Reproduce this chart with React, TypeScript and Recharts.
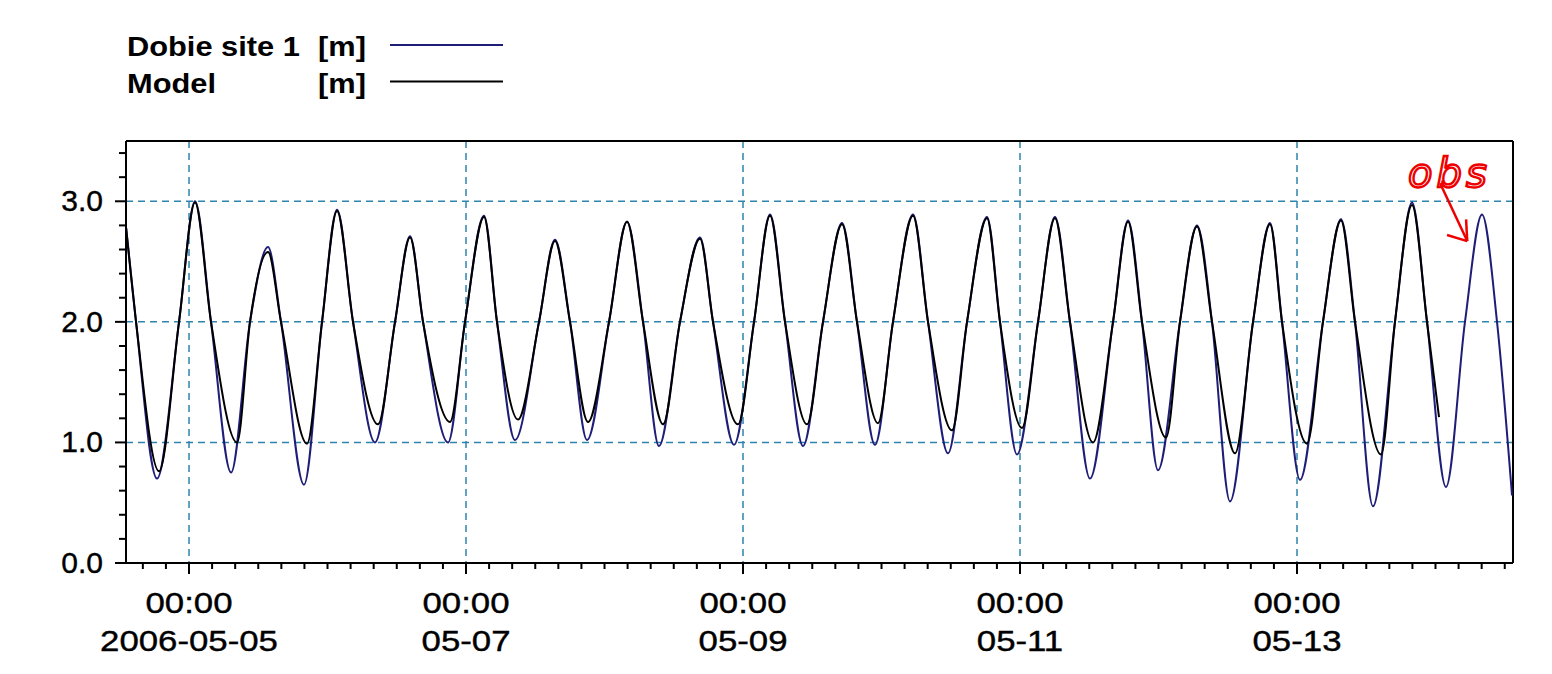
import React from 'react';
import { LineChart, Line, XAxis, YAxis, CartesianGrid, ReferenceLine, ReferenceDot, Legend } from 'recharts';

// hours since 2006-05-05 00:00, water level [m]
const obsSeries: [number, number][] = [
  [-10.9, 2.78], [-9.18, 2.0], [-5.55, 0.7], [-1.73, 2.0], [1.04, 3.0], [3.81, 2.0], [7.28, 0.75], [10.57, 2.0],
  [13.69, 2.62], [15.94, 2.0], [19.93, 0.65], [23.05, 2.0], [25.65, 2.93], [28.42, 2.0], [32.23, 1.0], [35.7, 2.0],
  [38.3, 2.71], [40.55, 2.0], [44.88, 1.0], [47.83, 2.0], [51.12, 2.88], [53.37, 2.0], [56.49, 1.02], [60.65, 2.0],
  [63.42, 2.68], [66.02, 2.0], [68.97, 1.02], [72.78, 2.0], [75.9, 2.83], [78.67, 2.0], [81.44, 0.97], [85.08, 2.0],
  [88.55, 2.7], [90.8, 2.0], [94.44, 0.98], [97.91, 2.0], [100.68, 2.89], [103.28, 2.0], [106.4, 0.97], [109.86, 2.0],
  [113.16, 2.82], [115.75, 2.0], [118.87, 0.98], [121.99, 2.0], [125.46, 2.89], [128.06, 2.0], [131.52, 0.91], [134.82, 2.0],
  [138.28, 2.87], [140.53, 2.0], [143.48, 0.9], [147.12, 2.0], [150.06, 2.87], [152.66, 2.0], [156.13, 0.7], [160.12, 2.0],
  [162.72, 2.84], [165.14, 2.0], [167.91, 0.77], [171.72, 2.0], [174.67, 2.8], [177.27, 2.0], [180.39, 0.51], [184.38, 2.0],
  [187.32, 2.82], [189.4, 2.0], [192.52, 0.69], [196.5, 2.0], [199.62, 2.85], [202.05, 2.0], [205.17, 0.47], [208.98, 2.0],
  [211.93, 2.99], [214.53, 2.0], [217.82, 0.63], [221.11, 2.0], [224.06, 2.89], [226.66, 2.0], [229.26, 0.56],
];

const modelSeries: [number, number][] = [
  [-10.9, 2.78], [-9.18, 2.0], [-5.2, 0.76], [-1.73, 2.0], [1.04, 2.99], [3.81, 2.0], [8.32, 1.0], [10.57, 2.0],
  [13.69, 2.58], [15.94, 2.0], [20.45, 0.99], [23.05, 2.0], [25.65, 2.92], [28.42, 2.0], [32.75, 1.15], [35.7, 2.0],
  [38.3, 2.7], [40.55, 2.0], [45.23, 1.17], [47.83, 2.0], [51.12, 2.87], [53.37, 2.0], [57.01, 1.19], [60.65, 2.0],
  [63.42, 2.67], [66.02, 2.0], [69.14, 1.17], [72.78, 2.0], [75.9, 2.83], [78.67, 2.0], [82.14, 1.15], [85.08, 2.0],
  [88.55, 2.69], [90.8, 2.0], [95.13, 1.15], [97.91, 2.0], [100.68, 2.88], [103.28, 2.0], [107.09, 1.15], [109.86, 2.0],
  [113.16, 2.81], [115.75, 2.0], [119.39, 1.16], [121.99, 2.0], [125.46, 2.88], [128.06, 2.0], [132.22, 1.1], [134.82, 2.0],
  [138.28, 2.86], [140.53, 2.0], [144.35, 1.12], [147.12, 2.0], [150.06, 2.86], [152.66, 2.0], [156.65, 1.0], [160.12, 2.0],
  [162.72, 2.83], [165.14, 2.0], [169.3, 1.04], [171.72, 2.0], [174.67, 2.79], [177.27, 2.0], [181.26, 0.91], [184.38, 2.0],
  [187.32, 2.81], [189.4, 2.0], [193.73, 0.99], [196.5, 2.0], [199.62, 2.84], [202.05, 2.0], [206.56, 0.9], [208.98, 2.0],
  [211.93, 2.97], [214.53, 2.0], [216.61, 1.21],
];

const seriesNames = ['Dobie site 1', 'Model'];
const unitLabel = '[m]';
const majorHours = [0, 48, 96, 144, 192];
const majorTimeLabels = ['00:00', '00:00', '00:00', '00:00', '00:00'];
const majorDateLabels = ['2006-05-05', '05-07', '05-09', '05-11', '05-13'];
const yLabelValues = [0, 1, 2, 3];

// hand-written note pointing at the observed peak after the model ends
const noteText = 'obs';
const noteAnchor = { x: 215.4, y: 3.3 };
const arrowShaft = [{ x: 216.8, y: 3.15 }, { x: 221.5, y: 2.67 }];
const arrowHeadA = [{ x: 221.5, y: 2.67 }, { x: 218.0, y: 2.72 }];
const arrowHeadB = [{ x: 221.5, y: 2.67 }, { x: 221.3, y: 2.85 }];

const xTicks: number[] = [];
for (let h = -8; h <= 228; h += 4) xTicks.push(h);
const yTicks: number[] = [];
for (let i = 0; i <= 17; i++) yTicks.push(Math.round(i * 2) / 10);

const obsData = obsSeries.map(([t, v]) => ({ t, v }));
const modelData = modelSeries.map(([t, v]) => ({ t, v }));

const OBS_COLOR = '#1e1e78';
const MODEL_COLOR = '#000000';
const GRID_COLOR = '#2f84ad';
const NOTE_COLOR = '#ee0000';
const FONT = 'Arimo, "Liberation Sans", Arial, sans-serif';

const XTick = (props: any) => {
  const { x, y, payload } = props;
  const v = payload.value;
  const idx = majorHours.indexOf(v);
  const major = idx >= 0;
  return (
    <g>
      <line x1={x} x2={x} y1={y} y2={y + (major ? 11 : 6)} stroke="#000" strokeWidth={2} />
      {major && (
        <text
          transform={`translate(${x},${y + 50}) scale(1.16,1)`}
          textAnchor="middle"
          fontFamily={FONT}
          fontSize={30}
          fill="#000"
          stroke="#000"
          strokeWidth={0.4}
        >
          {majorTimeLabels[idx]}
        </text>
      )}
      {major && (
        <text
          transform={`translate(${x},${y + 88}) scale(1.16,1)`}
          textAnchor="middle"
          fontFamily={FONT}
          fontSize={30}
          fill="#000"
          stroke="#000"
          strokeWidth={0.4}
        >
          {majorDateLabels[idx]}
        </text>
      )}
    </g>
  );
};

const YTick = (props: any) => {
  const { x, y, payload } = props;
  const v = payload.value;
  const major = yLabelValues.some((m) => Math.abs(m - v) < 1e-6);
  return (
    <g>
      <line x1={x - (major ? 11 : 7)} x2={x} y1={y} y2={y} stroke="#000" strokeWidth={2} />
      {major && (
        <text
          x={x - 23}
          y={y + 10}
          textAnchor="end"
          fontFamily={FONT}
          fontSize={30}
          fill="#000"
          stroke="#000"
          strokeWidth={0.4}
        >
          {v.toFixed(1)}
        </text>
      )}
    </g>
  );
};

const NoteLabel = (props: any) => {
  const vb = props.viewBox || {};
  const cx = (vb.x || 0) + (vb.width || 0) / 2;
  const cy = (vb.y || 0) + (vb.height || 0) / 2;
  return (
    <text
      x={cx - 24}
      y={cy + 22}
      fontFamily='"DejaVu Sans", sans-serif'
      fontStyle="italic"
      fontSize={40}
      letterSpacing={4}
      fill="none"
      stroke={NOTE_COLOR}
      strokeWidth={2.4}
    >
      {noteText}
    </text>
  );
};

const renderLegend = () => (
  <svg width={560} height={110} style={{ display: 'block' }}>
    {seriesNames.map((name, i) => {
      const base = i === 0 ? 56 : 92.5;
      const ly = i === 0 ? 45 : 81.5;
      return (
        <g key={name}>
          <text
            transform={`translate(127,${base}) scale(1.1,1)`}
            fontFamily={FONT}
            fontWeight="bold"
            fontSize={28}
            fill="#000"
          >
            {name}
          </text>
          <text
            transform={`translate(318,${base}) scale(1.1,1)`}
            fontFamily={FONT}
            fontWeight="bold"
            fontSize={28}
            fill="#000"
          >
            {unitLabel}
          </text>
          <line x1={390} x2={503} y1={ly} y2={ly} stroke={i === 0 ? OBS_COLOR : MODEL_COLOR} strokeWidth={2} />
        </g>
      );
    })}
  </svg>
);

export default function App() {
  return (
    <div style={{ position: 'absolute', left: 0, top: 0, width: 1552, height: 674, background: '#fff' }}>
      <LineChart width={1552} height={674} margin={{ top: 141, right: 39, left: 0, bottom: 0 }}>
        <CartesianGrid
          horizontalValues={[1, 2, 3]}
          verticalValues={majorHours}
          stroke={GRID_COLOR}
          strokeWidth={1.5}
          strokeDasharray="7 5"
        />
        <XAxis
          dataKey="t"
          type="number"
          domain={[-10.92, 229.43]}
          ticks={xTicks}
          interval={0}
          height={111}
          tickSize={0}
          tickMargin={0}
          tickLine={false}
          tick={<XTick />}
          axisLine={{ stroke: '#000', strokeWidth: 2 }}
          allowDataOverflow
        />
        <YAxis
          type="number"
          domain={[0, 3.5]}
          ticks={yTicks}
          interval={0}
          width={126}
          tickSize={0}
          tickMargin={0}
          tickLine={false}
          tick={<YTick />}
          axisLine={{ stroke: '#000', strokeWidth: 2 }}
          allowDataOverflow
        />
        <ReferenceLine y={3.5} stroke="#000" strokeWidth={2} />
        <ReferenceLine x={229.43} stroke="#000" strokeWidth={2} />
        <Legend
          layout="vertical"
          align="center"
          verticalAlign="middle"
          content={renderLegend}
          wrapperStyle={{ top: 0, left: 0, width: 560, height: 110 }}
        />
        <Line
          data={obsData}
          dataKey="v"
          name={seriesNames[0]}
          type="monotone"
          stroke={OBS_COLOR}
          strokeWidth={2}
          dot={false}
          activeDot={false}
          isAnimationActive={false}
        />
        <Line
          data={modelData}
          dataKey="v"
          name={seriesNames[1]}
          type="monotone"
          stroke={MODEL_COLOR}
          strokeWidth={2}
          dot={false}
          activeDot={false}
          isAnimationActive={false}
        />
        <ReferenceLine segment={arrowShaft} stroke={NOTE_COLOR} strokeWidth={2.5} ifOverflow="visible" />
        <ReferenceLine segment={arrowHeadA} stroke={NOTE_COLOR} strokeWidth={2.5} ifOverflow="visible" />
        <ReferenceLine segment={arrowHeadB} stroke={NOTE_COLOR} strokeWidth={2.5} ifOverflow="visible" />
        <ReferenceDot
          x={noteAnchor.x}
          y={noteAnchor.y}
          r={1}
          fill="none"
          stroke="none"
          ifOverflow="visible"
          label={<NoteLabel />}
        />
      </LineChart>
    </div>
  );
}
